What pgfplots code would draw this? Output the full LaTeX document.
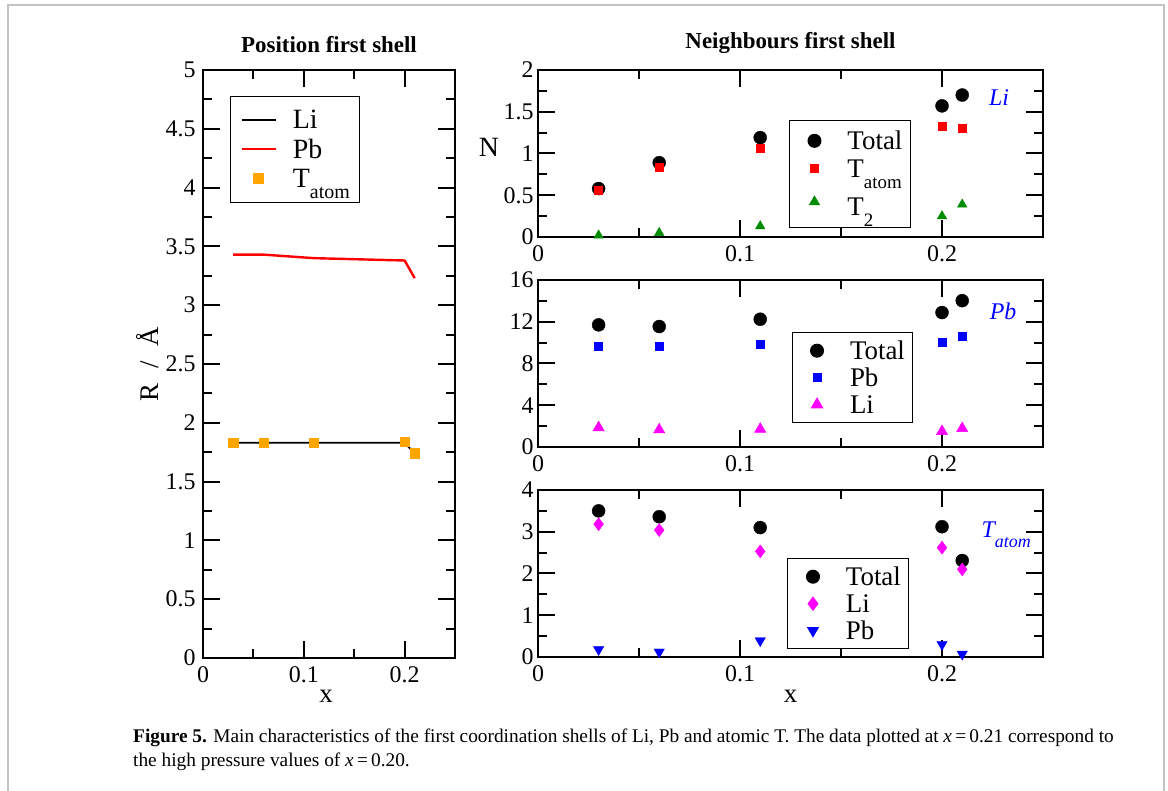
\documentclass[border=0pt]{standalone}
\usepackage{fontspec}
\setmainfont{Liberation Serif}
\usepackage{pgfplots}
\pgfplotsset{compat=1.18}

\definecolor{myorange}{RGB}{255,165,0}
\definecolor{mygreen}{RGB}{0,140,0}
\definecolor{mymagenta}{RGB}{255,0,255}
\definecolor{bordergray}{RGB}{195,195,195}
\newcommand{\fs}[1]{\fontsize{#1}{#1}\selectfont}
\newcommand{\lsub}[1]{\raisebox{-0.42em}[0pt][0pt]{\fontsize{20}{20}\selectfont #1}}
\newcommand{\rsub}[1]{\raisebox{-0.42em}[0pt][0pt]{\fontsize{19}{19}\selectfont #1}}
\newcommand{\st}{\rule[-6bp]{0pt}{25bp}}
\newcommand{\stt}{\rule[-6bp]{0pt}{35bp}}

\pgfplotsset{
  myaxis/.style={
    scale only axis,
    axis line style={line width=2bp},
    tick style={black, line width=2bp},
    major tick length=17bp,
    minor tick length=9bp,
    tick align=inside,
    xmin=0, xmax=0.25,
    xtick={0,0.1,0.2},
    minor x tick num=1,
    minor y tick num=1,
    ticklabel style={font=\fs{24}},
    xticklabel style={yshift=-5bp},
    /pgf/number format/assume math mode=true,
    scaled ticks=false,
    clip=false,
    legend image code/.code={\draw[mark repeat=2,mark phase=2,##1] plot coordinates {(0bp,0bp)(17bp,0bp)(34bp,0bp)};},
    legend style={draw=black, line width=1bp, font=\fs{27}, anchor=north west,
      inner xsep=8bp, inner ysep=8bp, row sep=6.5bp,
      nodes={inner sep=0bp},
      /tikz/every odd column/.append style={column sep=16bp}},
    legend cell align=left,
  },
  rightaxis/.style={myaxis, anchor=south west, width=505bp, height=167bp,
    yticklabel style={xshift=-1bp},
    legend image code/.code={\path[mark repeat=2,mark phase=2,##1,draw=none] plot coordinates {(0bp,0bp)(17bp,0bp)(34bp,0bp)};}},
  mk/.style={draw=none, mark options={draw=none}},
}

\begin{document}
\begin{tikzpicture}[x=1bp,y=1bp]
\useasboundingbox (0,0) rectangle (1168,791);
\draw[bordergray, line width=2bp] (8,-5) -- (8,786) -- (1164,786) -- (1164,-5);

% ---------------- left panel ----------------
\begin{axis}[myaxis, at={(203bp,133bp)}, anchor=south west, width=252bp, height=588bp,
  ymin=0, ymax=5, ytick={0,0.5,1,1.5,2,2.5,3,3.5,4,4.5,5},
  yticklabel style={xshift=-4bp},
  title={Position first shell},
  title style={font=\bfseries\fs{23}, at={(axis description cs:0.5,1.019)}, anchor=base, yshift=0pt},
  ylabel={R\hspace{0.55em}/\hspace{0.55em}Å},
  ylabel style={font=\fs{27}, at={(axis description cs:-0.218,0.5)}, anchor=center},
  xlabel={x},
  xlabel style={font=\fs{27}, at={(axis description cs:0.488,-0.066)}, anchor=center},
  legend style={at={(0.107,0.956)}, font=\fs{28}, inner xsep=10bp, inner ysep=13.5bp, row sep=8.5bp},
]
\addplot[black, line width=1.8bp] table {
x y
0.03 1.83
0.06 1.83
0.11 1.83
0.20 1.83
0.21 1.74
};
\addlegendentry{\st Li}
\addplot[red, line width=2.4bp] table {
x y
0.03 3.43
0.06 3.43
0.11 3.40
0.20 3.38
0.21 3.23
};
\addlegendentry{\st Pb}
\addplot[only marks, mark options={draw=none}, mark=square*, mark size=4.7bp, color=myorange] table {
x y
0.03 1.83
0.06 1.83
0.11 1.83
0.20 1.84
0.21 1.74
};
\addlegendentry{\st T\lsub{atom}}
\end{axis}

% ---------------- right top: Li ----------------
\begin{axis}[rightaxis, at={(538bp,554bp)},
  ymin=0, ymax=2, ytick={0,0.5,1,1.5,2},
  title={Neighbours first shell},
  title style={font=\bfseries\fs{23}, at={(axis description cs:0.5,1.09)}, anchor=base, yshift=0pt},
  ylabel={N},
  ylabel style={font=\fs{28}, at={(axis description cs:-0.097,0.539)}, anchor=center, rotate=-90},
  legend style={at={(0.497,0.70)}, inner ysep=10bp, row sep=7.5bp},
]
\addplot[mk, mark=*, mark size=6.5bp, color=black] table {
x y
0.03 0.58
0.06 0.89
0.11 1.19
0.20 1.57
0.21 1.70
};
\addlegendentry{\st Total}
\addplot[mk, mark=square*, mark size=4bp, color=red] table {
x y
0.03 0.56
0.06 0.83
0.11 1.06
0.20 1.33
0.21 1.30
};
\addlegendentry{\st T\rsub{atom}}
\addplot[mk, mark=triangle*, mark size=5.5bp, color=mygreen] table {
x y
0.03 0.02
0.06 0.05
0.11 0.13
0.20 0.25
0.21 0.39
};
\addlegendentry{\stt T\rsub{2}}
\node[font=\itshape\fs{24}, text=blue] at (axis description cs:0.913,0.832) {Li};
\end{axis}

% ---------------- right middle: Pb ----------------
\begin{axis}[rightaxis, at={(538bp,344bp)},
  ymin=0, ymax=16, ytick={0,4,8,12,16},
  legend style={at={(0.502,0.689)}},
]
\addplot[mk, mark=*, mark size=6.5bp, color=black] table {
x y
0.03 11.70
0.06 11.54
0.11 12.24
0.20 12.88
0.21 14.02
};
\addlegendentry{\st Total}
\addplot[mk, mark=square*, mark size=4bp, color=blue] table {
x y
0.03 9.69
0.06 9.69
0.11 9.82
0.20 10.01
0.21 10.58
};
\addlegendentry{\st Pb}
\addplot[mk, mark=triangle*, mark size=6.5bp, color=mymagenta] table {
x y
0.03 1.86
0.06 1.66
0.11 1.71
0.20 1.50
0.21 1.78
};
\addlegendentry{\st Li}
\node[font=\itshape\fs{24}, text=blue] at (axis description cs:0.921,0.814) {Pb};
\end{axis}

% ---------------- right bottom: T atom ----------------
\begin{axis}[rightaxis, at={(538bp,134bp)},
  ymin=0, ymax=4, ytick={0,1,2,3,4},
  xlabel={x},
  xlabel style={font=\fs{27}, at={(axis description cs:0.5,-0.235)}, anchor=center},
  legend style={at={(0.494,0.593)}},
]
\addplot[mk, mark=*, mark size=6.5bp, color=black] table {
x y
0.03 3.50
0.06 3.36
0.11 3.10
0.20 3.12
0.21 2.31
};
\addlegendentry{\st Total}
\addplot[mk, mark=diamond*, mark size=6.5bp, color=mymagenta] table {
x y
0.03 3.18
0.06 3.04
0.11 2.53
0.20 2.62
0.21 2.10
};
\addlegendentry{\st Li}
\addplot[mk, mark=triangle*, mark size=6bp, color=blue, mark options={rotate=180}] table {
x y
0.03 0.18
0.06 0.12
0.11 0.39
0.20 0.30
0.21 0.07
};
\addlegendentry{\st Pb}
\node[font=\itshape\fs{24}, text=blue] at (axis description cs:0.927,0.731) {T\raisebox{-0.4em}{\fontsize{18}{18}\selectfont atom}};
\end{axis}

% ---------------- caption ----------------
\node[anchor=base west, inner sep=0, font=\fs{19.4}] at (133,48) {\textbf{Figure 5.} Main characteristics of the first coordination shells of Li, Pb and atomic T. The data plotted at \textit{x}\,=\,0.21 correspond to};
\node[anchor=base west, inner sep=0, font=\fs{19.4}] at (133,24) {the high pressure values of \textit{x}\,=\,0.20.};
\end{tikzpicture}
\end{document}
